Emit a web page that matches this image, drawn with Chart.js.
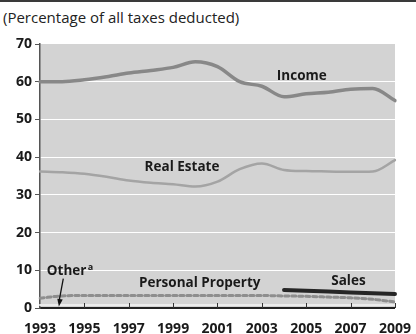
<!DOCTYPE html>
<html>
<head>
<meta charset="utf-8">
<script src="https://cdn.jsdelivr.net/npm/chart.js@4/dist/chart.umd.min.js"></script>
<style>
  html, body { margin: 0; padding: 0; background: #fff; }
  #wrap { position: relative; width: 416px; height: 334px; }
  #rule { position: absolute; left: 0; top: 0; width: 416px; height: 0; border-top: 2px solid #3a3a3a; }
  #title { position: absolute; left: 3px; top: 7px; font: 15px "Open Sans", sans-serif; color: #222; }
  canvas { position: absolute; left: 0; top: 0; }
</style>
</head>
<body>
<div id="wrap">
  <div id="rule"></div>
  <div id="title">(Percentage of all taxes deducted)</div>
  <canvas id="taxChart" width="416" height="334"></canvas>
</div>
<script>
const years = [1993, 1994, 1995, 1996, 1997, 1998, 1999, 2000, 2001, 2002, 2003, 2004, 2005, 2006, 2007, 2008, 2009];
const income = [60, 60, 60.5, 61.3, 62.3, 63, 63.8, 65.3, 64, 60, 58.8, 56, 56.8, 57.2, 58, 58.2, 55];
const realEstate = [36.2, 36, 35.6, 34.8, 33.8, 33.2, 32.8, 32.2, 33.5, 36.8, 38.3, 36.6, 36.3, 36.2, 36.1, 36.2, 39.2];
const sales = [null, null, null, null, null, null, null, null, null, null, null, 4.8, 4.6, 4.4, 4.1, 3.9, 3.7];
const personalProperty = [2.6, 3.2, 3.3, 3.3, 3.3, 3.3, 3.3, 3.3, 3.3, 3.3, 3.3, 3.2, 3.1, 2.9, 2.7, 2.3, 1.6];
const other = [0.8, 0.8, 0.8, 0.8, 0.8, 0.8, 0.8, 0.8, 0.8, 0.8, 0.8, 0.8, 0.8, 0.8, 0.8, 0.8, 0.8];
const yTicks = [0, 10, 20, 30, 40, 50, 60, 70];

// series captions: text, year, value
const captionText = ["Income", "Real Estate", "Personal Property", "Sales", "Other"];
const captionYear = [2004.8, 1999.4, 2000.2, 2006.9, 1994.2];
const captionValue = [61.4, 37.4, 6.6, 7.2, 9.8];

const idx = (yr) => yr - years[0];

const plotBackground = {
  id: "plotBackground",
  beforeDraw(chart) {
    const { ctx, chartArea: a } = chart;
    ctx.save();
    ctx.fillStyle = "#d3d3d3";
    ctx.fillRect(a.left, a.top, a.right - a.left, a.bottom - a.top);
    ctx.restore();
  }
};

const decorations = {
  id: "decorations",
  afterDraw(chart) {
    const { ctx, chartArea: a } = chart;
    const x = chart.scales.x, y = chart.scales.y;
    ctx.save();

    // small inside ticks every two years
    ctx.strokeStyle = "#333";
    ctx.lineWidth = 1;
    years.forEach((yr, i) => {
      if (i === 0 || i % 2 !== 0) return;
      const px = Math.round(x.getPixelForValue(i)) + 0.5;
      ctx.beginPath();
      ctx.moveTo(px, a.bottom - 5);
      ctx.lineTo(px, a.bottom);
      ctx.stroke();
    });

    // captions
    const capFont = "bold 13.5px 'Open Sans', sans-serif";
    ctx.fillStyle = "#1a1a1a";
    ctx.font = capFont;
    ctx.textAlign = "center";
    ctx.textBaseline = "middle";
    captionText.forEach((t, i) => {
      const px = x.getPixelForValue(idx(captionYear[i]));
      const py = y.getPixelForValue(captionValue[i]);
      ctx.fillText(t, px, py);
      if (t === "Other") {
        const w = ctx.measureText(t).width;
        ctx.font = "bold 9px 'Open Sans', sans-serif";
        ctx.fillText("a", px + w / 2 + 4, py - 4);
        ctx.font = capFont;
      }
    });

    // arrow from the Other caption down to its line
    const x0 = x.getPixelForValue(idx(1994.05)), y0 = y.getPixelForValue(7.8);
    const x1 = x.getPixelForValue(idx(1993.85)), y1 = y.getPixelForValue(0.4);
    ctx.strokeStyle = "#111";
    ctx.lineWidth = 1.3;
    ctx.beginPath();
    ctx.moveTo(x0, y0);
    ctx.lineTo(x1, y1 - 4);
    ctx.stroke();
    const ang = Math.atan2(y1 - y0, x1 - x0);
    ctx.fillStyle = "#111";
    ctx.beginPath();
    ctx.moveTo(x1, y1);
    ctx.lineTo(x1 - 8 * Math.cos(ang - 0.35), y1 - 8 * Math.sin(ang - 0.35));
    ctx.lineTo(x1 - 8 * Math.cos(ang + 0.35), y1 - 8 * Math.sin(ang + 0.35));
    ctx.closePath();
    ctx.fill();

    ctx.restore();
  }
};

const tickFont = { family: "'Open Sans', sans-serif", size: 14, weight: "bold" };

new Chart(document.getElementById("taxChart"), {
  type: "line",
  data: {
    labels: years.map(String),
    datasets: [
      { label: "Other", data: other, borderColor: "#ebebeb", borderWidth: 2 },
      { label: "Personal Property", data: personalProperty, borderColor: "#8e8e8e", borderWidth: 3, borderDash: [4, 3] },
      { label: "Sales", data: sales, borderColor: "#262626", borderWidth: 4 },
      { label: "Real Estate", data: realEstate, borderColor: "#a4a4a4", borderWidth: 2.5 },
      { label: "Income", data: income, borderColor: "#888888", borderWidth: 3.5 }
    ]
  },
  options: {
    responsive: false,
    animation: false,
    layout: { padding: { top: 44, right: 16, left: 0, bottom: 0 } },
    elements: {
      point: { radius: 0 },
      line: { cubicInterpolationMode: "monotone", borderCapStyle: "round" }
    },
    plugins: { legend: { display: false }, tooltip: { enabled: false } },
    scales: {
      x: {
        offset: false,
        afterFit(s) { s.height = 26; },
        grid: { display: false },
        border: { display: true, color: "#222", width: 2 },
        ticks: {
          autoSkip: false,
          maxRotation: 0,
          padding: 5,
          color: "#1a1a1a",
          font: tickFont,
          callback: (v, i) => (i % 2 === 0 ? years[i] : "")
        }
      },
      y: {
        min: 0,
        max: 70,
        afterFit(s) { s.width = 40; },
        afterBuildTicks(s) { s.ticks = yTicks.map(v => ({ value: v })); },
        grid: {
          color: (c) => (c.tick && c.tick.value > 0 && c.tick.value < 70 ? "#ffffff" : "rgba(0,0,0,0)"),
          lineWidth: 1,
          tickLength: 5,
          tickColor: "#555",
          drawTicks: true
        },
        border: { display: true, color: "#555", width: 1.5 },
        ticks: { padding: 3, color: "#1a1a1a", font: tickFont }
      }
    }
  },
  plugins: [plotBackground, decorations]
});
</script>
</body>
</html>
